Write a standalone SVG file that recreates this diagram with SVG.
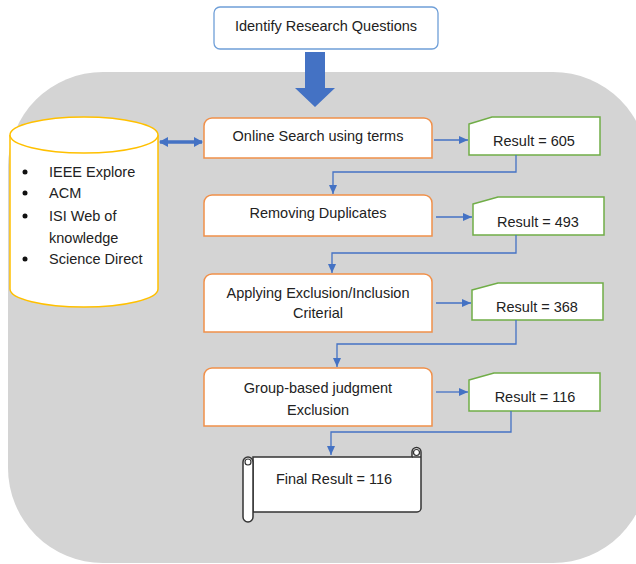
<svg xmlns="http://www.w3.org/2000/svg" width="636" height="564" viewBox="0 0 636 564">
<defs>
<style>
text{font-family:"Liberation Sans",Arial,sans-serif;font-size:14.5px;fill:#222;}
.c{text-anchor:middle;}
.proc{fill:#fff;stroke:#F0904A;stroke-width:1.5;}
.res{fill:#fff;stroke:#70AD47;stroke-width:1.5;}
.conn{fill:none;stroke:#4472C4;stroke-width:1.3;}
</style>
<marker id="ah" markerWidth="10" markerHeight="10" refX="9" refY="5" orient="auto" markerUnits="userSpaceOnUse">
<path d="M0,1 L9,5 L0,9 Z" fill="#4472C4"/>
</marker>
<marker id="dh" markerWidth="10" markerHeight="10" refX="8" refY="5" orient="auto-start-reverse" markerUnits="userSpaceOnUse">
<path d="M0,0 L9,5 L0,10 Z" fill="#4472C4"/>
</marker>
</defs>

<rect id="background" x="8" y="72" width="640" height="491" rx="95" ry="95" fill="#D4D4D4"/>

<g id="n-identify">
<rect x="214" y="7" width="224" height="42" rx="6" fill="#fff" stroke="#6F9FD8" stroke-width="1.3"/>
<text class="c" x="326" y="31">Identify Research Questions</text>
</g>

<g id="big-arrow">
<path d="M305,52 L325,52 L325,88 L335,88 L315,107 L295,88 L305,88 Z" fill="#4472C4"/>
</g>

<g id="n-database">
<path d="M10,135 L10,289 A74,18 0 0 0 158,289 L158,135" fill="#fff" stroke="#FFC000" stroke-width="1.5"/>
<ellipse cx="84" cy="135" rx="74" ry="18" fill="#fff" stroke="#FFC000" stroke-width="1.5"/>
<circle cx="25" cy="172" r="2.5" fill="#111"/>
<text x="49" y="177">IEEE Explore</text>
<circle cx="25" cy="193" r="2.5" fill="#111"/>
<text x="49" y="198">ACM</text>
<circle cx="25" cy="216" r="2.5" fill="#111"/>
<text x="49" y="221">ISI Web of</text>
<text x="49" y="243">knowledge</text>
<circle cx="25" cy="259" r="2.5" fill="#111"/>
<text x="49" y="264">Science Direct</text>
</g>

<g id="n-online">
<path class="proc" d="M204,126 A8,8 0 0 1 212,118 L424,118 A8,8 0 0 1 432,126 L432,158 L204,158 Z"/>
<text class="c" x="318" y="141">Online Search using terms</text>
</g>

<g id="n-removing">
<path class="proc" d="M204,203 A8,8 0 0 1 212,195 L424,195 A8,8 0 0 1 432,203 L432,236 L204,236 Z"/>
<text class="c" x="318" y="218">Removing Duplicates</text>
</g>

<g id="n-applying">
<path class="proc" d="M204,282 A8,8 0 0 1 212,274 L424,274 A8,8 0 0 1 432,282 L432,332 L204,332 Z"/>
<text class="c" x="318" y="298">Applying Exclusion/Inclusion</text>
<text class="c" x="318" y="318">Criterial</text>
</g>

<g id="n-group">
<path class="proc" d="M204,376 A8,8 0 0 1 212,368 L424,368 A8,8 0 0 1 432,376 L432,426 L204,426 Z"/>
<text class="c" x="318" y="393">Group-based judgment</text>
<text class="c" x="318" y="415">Exclusion</text>
</g>

<g id="n-r605">
<path class="res" d="M469,124 L492,117 L600,117 L600,155 L469,155 Z"/>
<text class="c" x="534" y="146">Result = 605</text>
</g>
<g id="n-r493">
<path class="res" d="M473,204 L498,197 L604,197 L604,235 L473,235 Z"/>
<text class="c" x="538" y="227">Result = 493</text>
</g>
<g id="n-r368">
<path class="res" d="M472,290 L498,283 L603,283 L603,320 L472,320 Z"/>
<text class="c" x="537" y="312">Result = 368</text>
</g>
<g id="n-r116">
<path class="res" d="M469,380 L494,373 L600,373 L600,411 L469,411 Z"/>
<text class="c" x="535" y="402">Result = 116</text>
</g>

<g id="n-final">
<path d="M253,457 L412,457 L412,452 A4.5,4.5 0 0 1 421,452 L421,508 A4,4 0 0 1 417,512 L253,512 Z" fill="#fff" stroke="#333" stroke-width="1.5"/>
<rect x="243" y="457" width="10" height="65" rx="5" fill="#fff" stroke="#333" stroke-width="1.5"/>
<circle cx="248" cy="462" r="3" fill="none" stroke="#333" stroke-width="1.2"/>
<circle cx="416.5" cy="452.5" r="3" fill="none" stroke="#333" stroke-width="1.2"/>
<line x1="412" y1="457" x2="421" y2="457" stroke="#333" stroke-width="1.5"/>
<text class="c" x="334" y="484">Final Result = 116</text>
</g>

<g id="connectors">
<line x1="160" y1="142" x2="202" y2="142" stroke="#4472C4" stroke-width="3.5" marker-start="url(#dh)" marker-end="url(#dh)"/>
<line class="conn" x1="434" y1="140" x2="468" y2="140" marker-end="url(#ah)"/>
<path class="conn" d="M516,155 L516,172 L333,172 L333,194" marker-end="url(#ah)"/>
<line class="conn" x1="436" y1="217" x2="472" y2="217" marker-end="url(#ah)"/>
<path class="conn" d="M516,235 L516,253 L332,253 L332,273" marker-end="url(#ah)"/>
<line class="conn" x1="436" y1="303" x2="471" y2="303" marker-end="url(#ah)"/>
<path class="conn" d="M516,320 L516,344 L337,344 L337,367" marker-end="url(#ah)"/>
<line class="conn" x1="436" y1="392" x2="468" y2="392" marker-end="url(#ah)"/>
<path class="conn" d="M511,411 L511,432 L331,432 L331,455" marker-end="url(#ah)"/>
</g>
</svg>
